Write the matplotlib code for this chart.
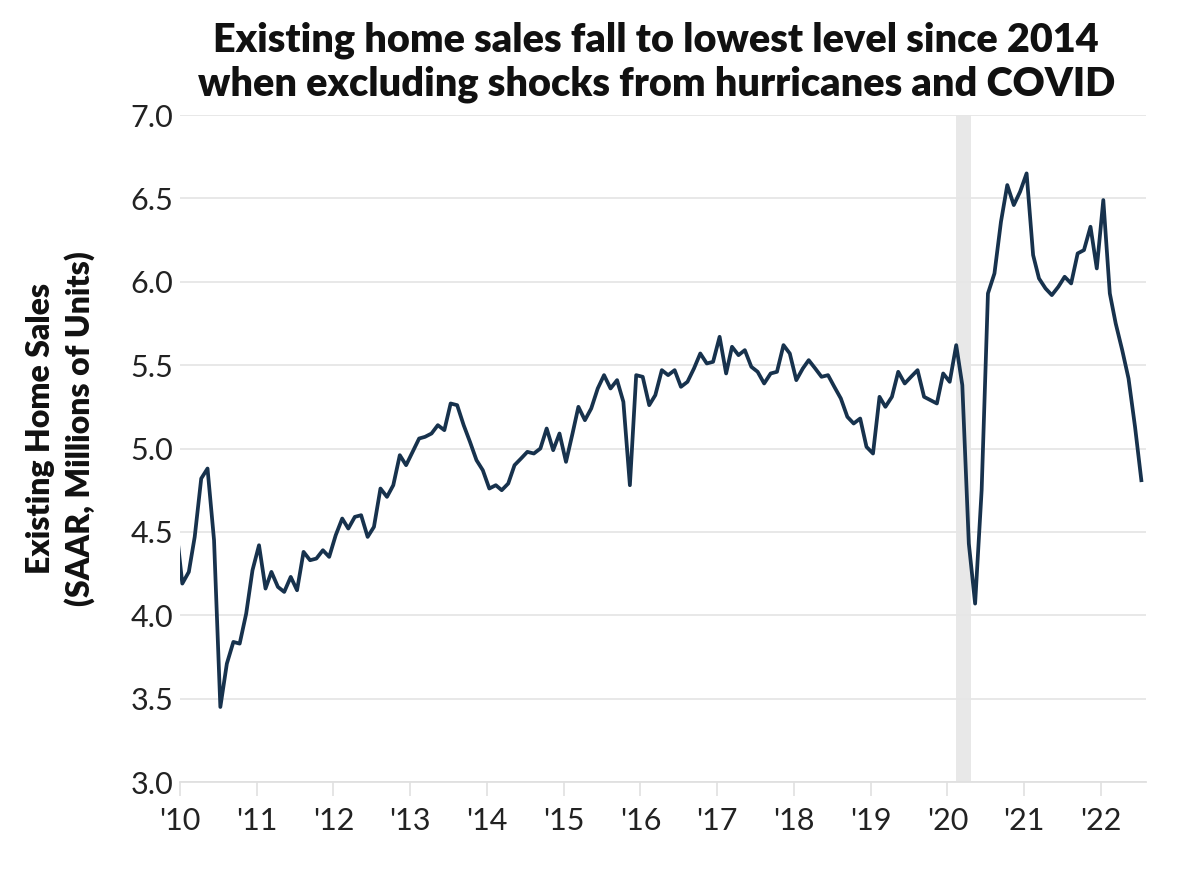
import numpy as np
import pandas as pd
import matplotlib
matplotlib.use('Agg')
import matplotlib.pyplot as plt

plt.rcParams['font.family'] = ['Lato', 'DejaVu Sans']

# monthly existing home sales, SAAR millions (Dec 2009 .. Jul 2022)
start_month = '2009-12-01'
sales = [
    4.55,
    4.19, 4.26, 4.47, 4.82, 4.88, 4.45, 3.45, 3.71, 3.84, 3.83, 4.01, 4.27,
    4.42, 4.16, 4.26, 4.17, 4.14, 4.23, 4.15, 4.38, 4.33, 4.34, 4.39, 4.35,
    4.48, 4.58, 4.52, 4.59, 4.60, 4.47, 4.53, 4.76, 4.71, 4.78, 4.96, 4.90,
    4.98, 5.06, 5.07, 5.09, 5.14, 5.11, 5.27, 5.26, 5.14, 5.04, 4.93, 4.87,
    4.76, 4.78, 4.75, 4.79, 4.90, 4.94, 4.98, 4.97, 5.00, 5.12, 4.99, 5.09,
    4.92, 5.09, 5.25, 5.17, 5.24, 5.36, 5.44, 5.36, 5.41, 5.28, 4.78, 5.44,
    5.43, 5.26, 5.32, 5.47, 5.44, 5.47, 5.37, 5.40, 5.48, 5.57, 5.51, 5.52,
    5.67, 5.45, 5.61, 5.56, 5.59, 5.49, 5.46, 5.39, 5.45, 5.46, 5.62, 5.57,
    5.41, 5.48, 5.53, 5.48, 5.43, 5.44, 5.37, 5.30, 5.19, 5.15, 5.18, 5.01,
    4.97, 5.31, 5.25, 5.31, 5.46, 5.39, 5.43, 5.47, 5.31, 5.29, 5.27, 5.45,
    5.40, 5.62, 5.38, 4.43, 4.07, 4.75, 5.93, 6.05, 6.36, 6.58, 6.46, 6.54,
    6.65, 6.16, 6.02, 5.96, 5.92, 5.97, 6.03, 5.99, 6.17, 6.19, 6.33, 6.08,
    6.49, 5.93, 5.75, 5.59, 5.42, 5.13, 4.81,
]
recession = ('2020-02-12', '2020-04-22')
years = list(range(2010, 2023))
year_labels = ["'%02d" % (y % 100) for y in years]

dates = pd.date_range(start_month, periods=len(sales), freq='MS') + pd.Timedelta(days=11)

fig = plt.figure(figsize=(11.78, 8.72), dpi=100)
ax = fig.add_axes([0.1528, 0.1032, 0.8200, 0.7649])

ax.axvspan(pd.Timestamp(recession[0]), pd.Timestamp(recession[1]),
           color='#e8e8e8', lw=0, zorder=0)
ax.plot(dates, sales, color='#17324d', lw=2.7, zorder=3)

ax.set_xlim(pd.Timestamp('2010-01-01'), pd.Timestamp('2022-08-03'))
ax.set_ylim(3.0, 7.0)
ax.set_yticks(np.arange(3.0, 7.01, 0.5))
ax.set_yticklabels(['%.1f' % v for v in np.arange(3.0, 7.01, 0.5)])
ax.set_xticks([pd.Timestamp('%d-01-01' % y) for y in years])
ax.set_xticklabels(year_labels)

ax.grid(axis='y', color='#e6e6e6', lw=1.3, zorder=1)
ax.set_axisbelow(True)
for s in ['top', 'right', 'left']:
    ax.spines[s].set_visible(False)
ax.spines['bottom'].set_color('#e0e0e0')
ax.spines['bottom'].set_linewidth(1.3)
ax.tick_params(axis='y', length=0, pad=5, labelsize=22, labelcolor='#222222')
ax.tick_params(axis='x', length=10, width=1.2, color='#e0e0e0', pad=8,
               labelsize=22, labelcolor='#222222')

ax.set_ylabel('Existing Home Sales\n(SAAR, Millions of Units)', fontsize=23,
              fontweight='heavy', color='#111111', linespacing=1.35)
ax.yaxis.set_label_coords(-0.088, 0.53)

fig.text(0.557, 0.975, 'Existing home sales fall to lowest level since 2014\n'
         'when excluding shocks from hurricanes and COVID',
         ha='center', va='top', fontsize=28.5, fontweight='heavy',
         color='#111111', linespacing=1.2)

fig.savefig('out.png', dpi=100)
